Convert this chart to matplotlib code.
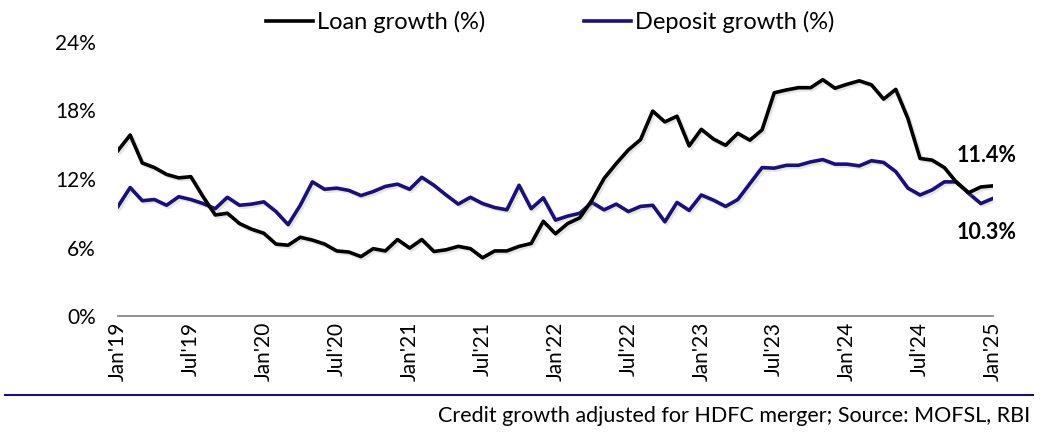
import numpy as np
import matplotlib.pyplot as plt
import matplotlib.patheffects as pe
from matplotlib.lines import Line2D

plt.rcParams['font.family'] = ['Lato', 'DejaVu Sans']

# Monthly data, Jan'19 .. Jan'25
loan_growth = [
    14.5, 15.85, 13.4, 13.0, 12.4, 12.1, 12.2, 10.45, 8.85, 9.0, 8.1, 7.6,
    7.25, 6.3, 6.2, 6.9, 6.65, 6.3, 5.7, 5.6, 5.2, 5.9, 5.7, 6.7,
    5.95, 6.7, 5.65, 5.8, 6.1, 5.9, 5.1, 5.7, 5.7, 6.1, 6.35, 8.3,
    7.2, 8.1, 8.6, 10.15, 12.05, 13.35, 14.55, 15.45, 17.95, 17.0, 17.5, 14.9,
    16.35, 15.5, 14.95, 16.0, 15.4, 16.3, 19.55, 19.8, 20.0, 20.0, 20.7, 19.95,
    20.3, 20.6, 20.25, 19.0, 19.85, 17.3, 13.8, 13.65, 13.0, 11.7, 10.8, 11.3,
    11.4,
]
deposit_growth = [
    9.6, 11.25, 10.1, 10.2, 9.7, 10.45, 10.2, 9.85, 9.4, 10.4, 9.7, 9.8,
    10.0, 9.15, 8.0, 9.7, 11.75, 11.1, 11.2, 11.0, 10.55, 10.9, 11.35, 11.55,
    11.1, 12.15, 11.45, 10.6, 9.8, 10.4, 9.85, 9.5, 9.3, 11.45, 9.4, 10.35,
    8.4, 8.75, 9.0, 9.95, 9.3, 9.8, 9.15, 9.6, 9.7, 8.25, 9.95, 9.25,
    10.6, 10.15, 9.6, 10.2, 11.6, 13.0, 12.95, 13.2, 13.2, 13.5, 13.7, 13.3,
    13.3, 13.15, 13.6, 13.45, 12.65, 11.2, 10.6, 11.05, 11.75, 11.75, 10.75, 9.85,
    10.3,
]
tick_labels = ["Jan'19", "Jul'19", "Jan'20", "Jul'20", "Jan'21", "Jul'21", "Jan'22",
               "Jul'22", "Jan'23", "Jul'23", "Jan'24", "Jul'24", "Jan'25"]

navy = '#1a0f7e'
months = np.arange(len(loan_growth))

fig = plt.figure(figsize=(10.46, 4.32), dpi=100)
ax = fig.add_axes([0.1128, 0.2685, 0.8365, 0.6343])

shadow = [pe.SimpleLineShadow(offset=(1.5, -1.5), alpha=0.2, shadow_color='gray'), pe.Normal()]
ax.plot(months, loan_growth, color='black', lw=2.6, path_effects=shadow, zorder=3)
ax.plot(months, deposit_growth, color=navy, lw=2.6, path_effects=shadow, zorder=2)

ax.set_xlim(0, 72)
ax.set_ylim(0, 24)
ax.set_yticks([0, 6, 12, 18, 24])
ax.set_yticklabels([f'{v}%' for v in [0, 6, 12, 18, 24]], fontsize=15)
ax.set_xticks(np.arange(0, 73, 6))
ax.set_xticklabels(tick_labels, rotation=90, fontsize=15)
ax.tick_params(length=0)
ax.tick_params(axis='y', pad=16)
ax.tick_params(axis='x', pad=4)
for s in ['top', 'right', 'left']:
    ax.spines[s].set_visible(False)
ax.spines['bottom'].set_color('#7f7f7f')
ax.spines['bottom'].set_linewidth(1.2)

ax.annotate(f'{loan_growth[-1]:.1f}%', (72, loan_growth[-1]), xytext=(-26, 22),
            textcoords='offset points', fontsize=15.5, fontweight='bold',
            ha='left', va='center')
ax.annotate(f'{deposit_growth[-1]:.1f}%', (72, deposit_growth[-1]), xytext=(-26, -24.5),
            textcoords='offset points', fontsize=15.5, fontweight='bold',
            ha='left', va='center')

handles = [Line2D([], [], color='black', lw=2.6), Line2D([], [], color=navy, lw=2.6)]
fig.legend(handles, ['Loan growth (%)', 'Deposit growth (%)'], loc='center',
           bbox_to_anchor=(0.526, 1 - 22 / 432), ncol=2, frameon=False, fontsize=17,
           handlelength=2.0, handletextpad=0.15, columnspacing=4.2, borderpad=0)

fig.add_artist(Line2D([0.005, 0.988], [1 - 395 / 432] * 2, color=navy, lw=1.5))
fig.text(0.985, 1 - 416 / 432, 'Credit growth adjusted for HDFC merger; Source: MOFSL, RBI',
         ha='right', va='center', fontsize=15.5)

fig.savefig('out.png', dpi=100)
